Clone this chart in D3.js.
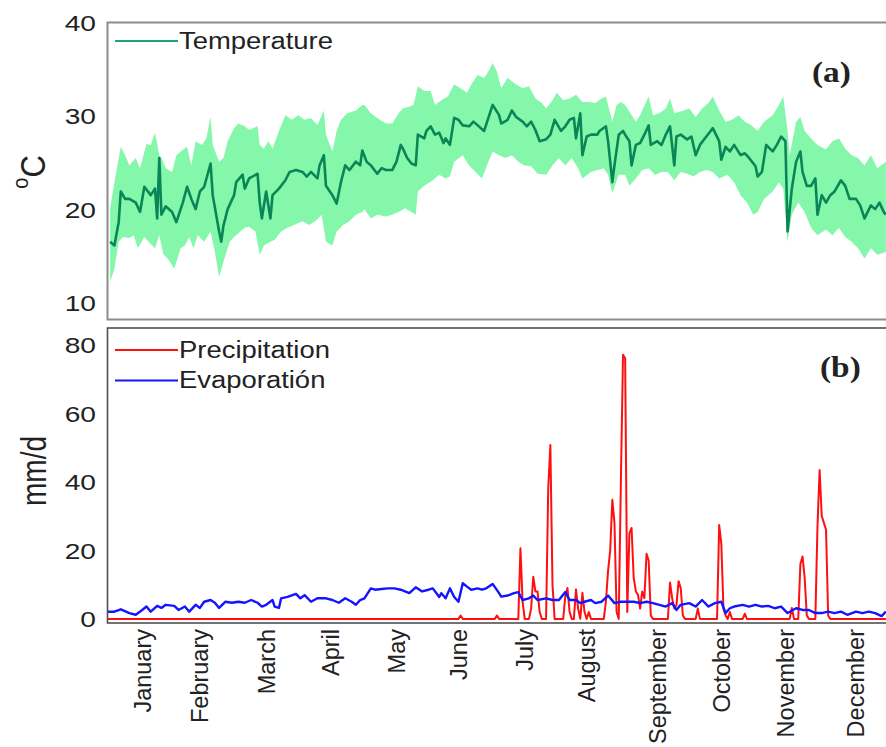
<!DOCTYPE html>
<html>
<head>
<meta charset="utf-8">
<script src="https://cdn.jsdelivr.net/npm/d3@7"></script>
<style>
  body { margin: 0; background: #fff; }
  svg { display: block; }
</style>
</head>
<body>
<svg id="chart" width="886" height="747"></svg>
<script>
// ---- Month labels on the shared time axis (day of year) ----
const months = ["January", "February", "March", "April", "May", "June",
  "July", "August", "September", "October", "November", "December"];
const monthTickDays = [16, 43, 74, 104, 135, 164, 195, 224, 257, 287, 317, 350];

const tempTicks = [10, 20, 30, 40];
const waterTicks = [0, 20, 40, 60, 80];

// ---- (a) daily mean temperature, °C ----
const meanDays = [1,3,5,6,8,10,13,15,17,20,22,23,24,25,27,30,32,35,37,39,41,43,45,48,49,52,53,54,56,59,60,63,64,66,70,71,72,74,76,77,80,83,85,88,91,93,95,98,99,101,102,105,107,109,111,113,116,118,119,121,123,126,128,130,133,135,137,138,140,142,144,145,148,149,151,153,155,157,158,160,162,164,166,169,171,173,176,178,180,183,184,187,189,191,194,196,198,200,202,205,207,209,212,214,216,218,219,221,222,224,226,229,230,233,234,236,237,239,241,242,244,245,247,249,251,253,254,257,259,261,263,265,266,268,271,273,275,277,279,282,283,286,287,289,291,293,296,298,300,303,304,306,308,311,313,315,317,318,320,322,324,325,327,329,331,332,334,336,338,340,343,345,347,350,352,354,357,359,361,363,364];
const meanTemp = [16.5,16.1,18.6,21.9,21.1,21.1,20.7,19.7,22.4,21.5,22.2,19.0,25.5,19.4,20.3,19.7,18.6,20.7,22.4,21.1,20.0,21.9,22.4,24.9,21.5,17.6,16.5,18.2,20.0,21.5,22.9,23.7,22.2,23.3,23.8,20.7,19.0,21.9,19.0,21.5,22.2,23.1,24.0,24.2,24.0,23.5,24.0,23.3,24.7,25.8,22.5,21.5,20.6,22.9,24.7,24.2,25.1,24.7,26.3,25.1,24.7,23.8,24.4,24.2,24.2,25.1,26.9,26.5,25.5,24.9,24.7,28.0,27.6,28.4,28.9,28.0,28.2,27.1,27.6,26.9,29.8,29.6,29.0,28.9,29.4,29.0,28.4,29.8,31.2,30.1,29.2,29.6,30.6,29.9,29.4,28.9,29.4,28.5,27.3,27.5,28.0,29.6,28.4,28.9,29.6,29.8,27.6,30.3,25.8,27.8,28.0,28.0,28.4,28.9,27.3,22.9,24.7,28.0,28.4,28.0,27.3,24.7,26.9,27.1,28.0,29.0,26.9,27.3,26.9,28.0,28.9,24.7,27.8,28.0,27.5,27.8,25.8,26.9,27.5,28.4,28.7,27.3,25.3,26.7,26.2,26.9,25.8,26.0,25.5,24.6,23.5,24.0,26.9,26.2,26.9,27.8,27.3,17.6,22.2,25.1,26.2,24.0,22.5,22.5,23.3,19.4,21.5,20.7,21.5,21.9,23.1,22.5,21.1,21.1,20.4,19.0,20.4,20.0,20.7,19.7,19.4];

// ---- (a) upper edge of the daily range, °C ----
const upperDays = [1,3,6,8,10,13,15,18,20,22,24,25,27,30,32,34,37,39,41,44,46,48,49,52,54,56,59,61,64,66,70,71,73,75,77,80,83,86,89,92,95,98,101,102,105,107,109,112,116,119,120,123,126,130,133,136,138,141,143,145,148,151,153,156,159,162,165,168,170,173,176,178,180,182,184,187,191,194,197,200,203,205,208,210,213,216,219,222,225,228,231,233,236,238,240,242,244,247,249,253,255,258,261,263,265,268,272,275,278,281,283,286,289,292,295,298,301,304,307,311,314,316,318,319,322,324,326,329,332,336,339,342,345,348,351,354,357,360,364];
const upperTemp = [20.1,22.9,26.7,25.8,24.7,25.5,24.4,27.0,26.9,28.2,25.8,25.5,24.4,24.0,25.8,26.2,26.7,24.7,27.3,26.9,27.6,29.9,26.9,25.1,25.5,27.3,28.7,29.2,28.9,28.5,28.9,26.9,26.5,27.3,26.5,28.4,30.1,29.6,30.1,29.6,29.8,29.0,30.6,28.0,26.2,28.4,29.6,30.3,30.6,31.2,31.2,30.3,29.8,29.2,29.2,30.3,30.8,31.0,31.2,33.2,32.7,32.7,31.2,31.7,32.1,33.4,33.0,32.5,33.4,34.4,34.1,34.8,35.7,34.8,33.0,34.1,33.4,33.0,33.2,31.9,31.4,30.8,31.7,32.5,31.7,31.9,32.3,31.5,31.5,31.4,31.9,32.1,29.4,31.2,31.5,31.2,30.5,29.4,30.1,32.1,30.1,30.3,30.8,31.9,30.3,30.5,30.8,29.9,30.8,31.4,32.1,30.6,29.4,29.6,30.1,29.4,29.0,28.4,29.4,30.1,31.2,32.1,28.4,25.8,29.4,29.9,28.4,27.6,26.9,26.4,27.3,27.6,26.5,25.8,25.5,24.7,25.8,24.4,25.1];

// ---- (a) lower edge of the daily range, °C ----
const lowerDays = [1,3,5,7,10,12,14,17,19,22,24,26,28,31,34,36,38,40,42,45,48,50,52,55,57,59,62,64,66,69,71,73,76,78,81,84,87,91,94,97,100,102,105,107,110,113,116,119,120,123,126,130,133,136,139,142,144,145,148,152,155,158,160,162,166,169,172,175,178,180,183,186,189,192,195,198,201,205,208,211,214,217,220,222,226,229,232,234,236,239,242,244,247,250,253,256,259,262,265,268,271,274,277,280,283,286,290,293,296,299,302,304,307,311,314,316,318,320,323,326,329,332,336,339,342,345,348,351,354,357,360,364];
const lowerTemp = [12.2,13.6,16.5,17.0,16.9,17.2,15.8,17.0,16.5,15.8,17.2,15.1,14.7,13.6,15.8,16.1,17.0,15.8,17.2,16.5,17.6,15.4,12.7,15.1,16.5,17.0,17.6,18.0,18.1,17.6,15.1,16.1,16.5,16.7,17.6,18.0,18.3,18.7,18.3,18.7,19.4,16.5,16.1,17.6,18.3,18.7,19.4,19.7,20.0,19.0,19.4,19.2,19.4,19.7,20.1,19.7,19.4,21.9,22.5,23.1,23.7,23.3,23.5,25.1,25.8,24.7,24.0,23.3,25.1,26.2,25.8,25.5,25.8,25.1,24.7,24.6,23.8,23.7,24.7,25.5,24.7,25.5,24.4,23.3,24.0,24.2,24.4,23.7,21.7,23.7,23.7,22.5,23.3,24.2,24.4,23.7,24.0,24.0,23.1,24.0,23.8,23.5,24.0,24.2,24.0,23.3,23.7,22.9,21.5,20.7,19.4,19.7,21.1,21.9,22.9,22.2,16.5,19.4,20.7,19.7,18.0,17.2,17.8,17.2,18.0,17.0,16.5,15.8,14.7,15.8,15.1,15.4];

// ---- (b) evaporation, mm/d ----
const evapDays = [0,3,6,10,13,16,18,20,23,25,27,31,33,36,38,41,43,45,48,50,52,55,58,61,64,67,70,72,74,77,78,80,81,84,88,90,92,95,98,102,105,108,111,114,116,118,120,123,125,128,131,134,137,141,144,147,150,152,155,156,158,160,162,164,166,168,170,173,175,177,180,183,184,187,190,192,194,197,199,201,205,208,211,214,216,219,221,223,226,228,231,234,237,240,243,246,249,252,255,258,261,264,266,268,272,275,278,281,284,287,289,291,293,297,300,303,306,309,312,315,318,322,325,328,331,334,337,340,343,346,350,353,356,359,362,364];
const evaporation = [2.1,2.1,2.8,1.7,1.2,2.6,3.6,2.1,3.8,3.2,4.1,3.8,2.6,3.6,2.1,4.1,3.2,5.0,5.5,4.7,3.2,5.0,4.7,5.0,4.7,5.5,4.7,3.6,4.1,5.5,3.6,3.2,6.0,6.4,7.3,6.0,6.9,5.0,6.0,6.0,5.5,4.7,6.0,5.0,4.1,5.5,6.0,8.9,8.5,8.7,8.9,8.9,8.5,7.5,9.2,8.0,8.5,8.9,6.4,7.5,6.0,8.9,6.4,5.0,10.4,9.4,8.5,8.9,8.5,8.9,10.2,7.5,6.5,6.8,7.5,7.8,5.5,6.0,6.8,5.5,6.0,5.5,5.5,7.8,5.5,5.5,4.6,5.0,5.5,4.6,5.0,6.8,4.6,5.0,5.0,5.0,4.6,5.0,4.6,4.1,3.6,4.6,2.6,4.1,4.6,3.6,5.5,3.6,4.6,5.0,1.7,3.1,3.6,4.1,3.6,4.1,3.6,3.8,3.1,3.6,1.7,3.1,2.6,2.6,1.7,1.7,2.1,1.7,2.1,1.2,2.1,1.7,2.1,1.7,0.8,2.1];

// ---- (b) precipitation, mm/d: rainy days only, every other day is 0 ----
const rainDays = [165,182,193,194,198,199,200,201,202,206,207,208,214,215,216,219,220,222,223,225,233,234,235,236,237,238,240,241,242,243,244,245,246,247,248,249,250,251,252,253,254,263,264,265,266,267,268,269,276,286,287,288,289,291,298,320,324,325,326,327,332,333,334,335,336,337];
const rainValues = [1.0,1.0,20.6,5,3,12.3,8,8,2,38,50.7,10,6.6,9,2,8.6,3,7.6,2,2,5,14,20,34.7,28,2,40,77,76,2,25,26.5,12,8,7,3,8,6,19,17,1,10.6,6,3,4,11,9,1,3,27.4,22,3,1,2,1.5,3.2,16,18.2,12,1,27,43.4,30,28,26,1];

// ---- assemble series ----
const zip = (xs, ys) => xs.map((d, i) => ({ day: d, v: ys[i] }));
const meanSeries = zip(meanDays, meanTemp);
const upperSeries = zip(upperDays, upperTemp);
const lowerSeries = zip(lowerDays, lowerTemp);
const evapSeries = zip(evapDays, evaporation);
const rainLookup = new Map(rainDays.map((d, i) => [d, rainValues[i]]));
const rainSeries = d3.range(0, 365).map(d => ({ day: d, v: rainLookup.get(d) || 0 }));

// ---- layout ----
const svg = d3.select("#chart");
const left = 108, right = 888;
const topA = 23, botA = 318;
const topB = 328, botB = 623;

const x = d3.scaleLinear().domain([0, 365]).range([left, right]);
const yT = d3.scaleLinear().domain([8.3, 40]).range([botA, topA]);
const yW = d3.scaleLinear().domain([-1.2, 84.8]).range([botB, topB]);

const defs = svg.append("defs");
defs.append("clipPath").attr("id", "clipA")
  .append("rect").attr("x", left).attr("y", topA).attr("width", right - left).attr("height", botA - topA);
defs.append("clipPath").attr("id", "clipB")
  .append("rect").attr("x", left).attr("y", topB).attr("width", right - left).attr("height", botB - topB);

const sans = "'Liberation Sans', Arial, sans-serif";
const serif = "'Liberation Serif', 'Times New Roman', serif";

// ---- panel (a): temperature ----
const gA = svg.append("g").attr("clip-path", "url(#clipA)");
const bandLine = d3.line().x(d => x(d.day)).y(d => yT(d.v));
const bandPts = upperSeries.concat(lowerSeries.slice().reverse());
gA.append("path")
  .attr("d", bandLine(bandPts) + "Z")
  .attr("fill", "#84f7ab")
  .attr("stroke", "none");
gA.append("path")
  .datum(meanSeries)
  .attr("d", d3.line().x(d => x(d.day)).y(d => yT(d.v)))
  .attr("fill", "none")
  .attr("stroke", "#0a8656")
  .attr("stroke-width", 2.6)
  .attr("stroke-linejoin", "round");

svg.append("rect")
  .attr("x", left - 0.5).attr("y", topA - 0.5)
  .attr("width", right - left + 10).attr("height", botA - topA + 2)
  .attr("fill", "none").attr("stroke", "#8c8c8c").attr("stroke-width", 2);

const axA = svg.append("g").attr("transform", `translate(${left},0)`)
  .call(d3.axisLeft(yT).tickValues(tempTicks).tickSize(0).tickPadding(0));
axA.select(".domain").remove();
axA.selectAll("text")
  .attr("x", null).attr("dy", "0.36em")
  .attr("text-anchor", "end")
  .attr("transform", "translate(-12,0) scale(1.28,1)")
  .style("font-family", sans).style("font-size", "22px").attr("fill", "#222");

// ---- panel (b): precipitation and evaporation ----
const gB = svg.append("g").attr("clip-path", "url(#clipB)");
const lineW = d3.line().x(d => x(d.day)).y(d => yW(d.v));
gB.append("path").datum(rainSeries).attr("d", lineW)
  .attr("fill", "none").attr("stroke", "#ff1010").attr("stroke-width", 2)
  .attr("stroke-linejoin", "round");
gB.append("path").datum(evapSeries).attr("d", lineW)
  .attr("fill", "none").attr("stroke", "#1414ff").attr("stroke-width", 2.4)
  .attr("stroke-linejoin", "round");

svg.append("rect")
  .attr("x", left - 0.5).attr("y", topB)
  .attr("width", right - left + 10).attr("height", botB - topB)
  .attr("fill", "none").attr("stroke", "#505050").attr("stroke-width", 1.6);

const axB = svg.append("g").attr("transform", `translate(${left},0)`)
  .call(d3.axisLeft(yW).tickValues(waterTicks).tickSize(0).tickPadding(0));
axB.select(".domain").remove();
axB.selectAll("text")
  .attr("x", null).attr("dy", "0.36em")
  .attr("text-anchor", "end")
  .attr("transform", "translate(-12,0) scale(1.28,1)")
  .style("font-family", sans).style("font-size", "22px").attr("fill", "#222");

// ---- month axis under panel (b) ----
const axM = svg.append("g").attr("transform", `translate(0,${botB})`)
  .call(d3.axisBottom(x).tickValues(monthTickDays).tickSize(0)
    .tickFormat((d, i) => months[i]));
axM.select(".domain").remove();
axM.selectAll("text")
  .attr("y", null).attr("dy", null)
  .attr("text-anchor", "end")
  .attr("dominant-baseline", "central")
  .attr("transform", "translate(0,6) rotate(-90)")
  .style("font-family", sans).style("font-size", "23.5px").attr("fill", "#222");

// ---- axis titles ----
const tC = svg.append("text")
  .attr("transform", "translate(45,172) scale(1.12,1) rotate(-90)")
  .attr("text-anchor", "middle")
  .style("font-family", sans).style("font-size", "31px").attr("fill", "#222");
tC.append("tspan").text("o").style("font-size", "20px").attr("dy", "-0.75em");
tC.append("tspan").text("C").attr("dy", "0.48em");

svg.append("text")
  .attr("transform", "translate(46,471) scale(1.25,1) rotate(-90)")
  .attr("text-anchor", "middle")
  .style("font-family", sans).style("font-size", "28px").attr("fill", "#222")
  .text("mm/d");

// ---- legends ----
function legendItem(y0, color, label) {
  svg.append("line").attr("x1", 115).attr("x2", 178).attr("y1", y0).attr("y2", y0)
    .attr("stroke", color).attr("stroke-width", 2.2);
  svg.append("text")
    .attr("transform", `translate(179,${y0 + 7.5}) scale(1.12,1)`)
    .style("font-family", sans).style("font-size", "24.5px").attr("fill", "#222")
    .text(label);
}
legendItem(41, "#1aa67a", "Temperature");
legendItem(350, "#ff1010", "Precipitation");
legendItem(380.5, "#1414ff", "Evaporatión");

// ---- panel tags ----
svg.append("text").attr("transform", "translate(812,82) scale(1.15,1)")
  .style("font-family", serif).style("font-weight", "bold").style("font-size", "29px")
  .attr("fill", "#222").text("(a)");
svg.append("text").attr("transform", "translate(820,377) scale(1.15,1)")
  .style("font-family", serif).style("font-weight", "bold").style("font-size", "29px")
  .attr("fill", "#222").text("(b)");
</script>
</body>
</html>
